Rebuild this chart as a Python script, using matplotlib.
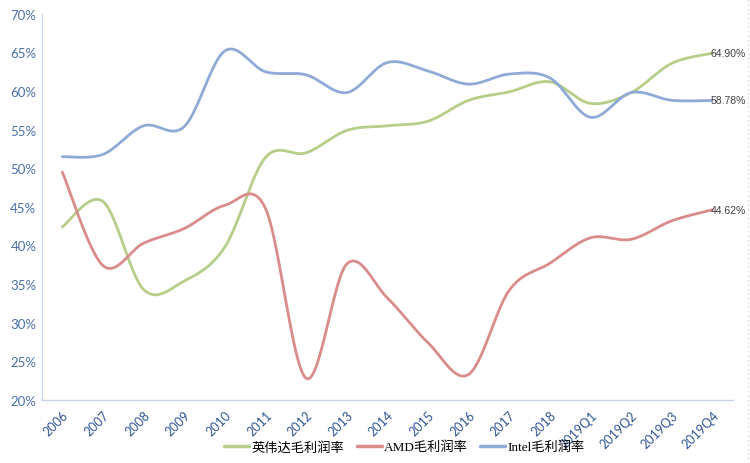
import numpy as np
import matplotlib
matplotlib.use("Agg")
from matplotlib import pyplot as plt
from matplotlib.lines import Line2D

# 数据
periods = ['2006', '2007', '2008', '2009', '2010', '2011', '2012', '2013', '2014',
           '2015', '2016', '2017', '2018', '2019Q1', '2019Q2', '2019Q3', '2019Q4']
nvidia = [42.4, 45.7, 34.3, 35.4, 39.8, 51.4, 52.0, 54.9, 55.5,
          56.1, 58.8, 59.9, 61.2, 58.4, 59.8, 63.6, 64.90]
amd = [49.5, 37.4, 40.3, 42.2, 45.2, 44.8, 22.8, 37.6, 33.2,
       27.4, 23.3, 34.2, 37.7, 41.0, 40.8, 43.2, 44.62]
intel = [51.5, 51.8, 55.5, 55.4, 65.2, 62.5, 62.1, 59.8, 63.7,
         62.6, 60.9, 62.2, 61.7, 56.6, 59.8, 58.8, 58.78]
names = ['英伟达毛利润率', 'AMD毛利润率', 'Intel毛利润率']
colors = ['#B5CE88', '#D98C8A', '#8EABD8']


def smooth(x, y, n=30):
    # 类似Excel平滑线：分段三次贝塞尔
    x = np.asarray(x, float)
    y = np.asarray(y, float)
    px = np.concatenate([[x[0]], x, [x[-1]]])
    py = np.concatenate([[y[0]], y, [y[-1]]])
    xs, ys = [], []
    t = np.linspace(0, 1, n)
    for i in range(len(x) - 1):
        p0 = np.array([px[i + 1], py[i + 1]])
        p3 = np.array([px[i + 2], py[i + 2]])
        c1 = p0 + (np.array([px[i + 2], py[i + 2]]) - np.array([px[i], py[i]])) / 6
        c2 = p3 - (np.array([px[i + 3], py[i + 3]]) - np.array([px[i + 1], py[i + 1]])) / 6
        b = ((1 - t) ** 3)[:, None] * p0 + (3 * (1 - t) ** 2 * t)[:, None] * c1 \
            + (3 * (1 - t) * t ** 2)[:, None] * c2 + (t ** 3)[:, None] * p3
        xs.append(b[:, 0])
        ys.append(b[:, 1])
    return np.concatenate(xs), np.concatenate(ys)


fig = plt.figure(figsize=(7.5, 4.64), dpi=100)
ax = fig.add_axes([0.056, 0.136, 0.921, 0.832])

x = np.arange(len(periods))
for data, name, c in zip([nvidia, amd, intel], names, colors):
    sx, sy = smooth(x, data)
    ax.plot(sx, sy, color=c, lw=2.0, label=name, solid_capstyle='round')
    ax.text(x[-1] - 0.05, data[-1], '%.2f%%' % data[-1], fontsize=7.5,
            color='#404040', va='center', ha='left', family='Liberation Sans')

ax.set_xlim(-0.5, 16.5)
ax.set_ylim(20, 70)
ax.set_yticks(range(20, 71, 5))
ax.set_yticklabels(['%d%%' % v for v in range(20, 71, 5)], family='Lato',
                   fontsize=9.5, color='#4A70A8')
ax.set_xticks(x)
ax.set_xticklabels(periods, rotation=45, ha='right', rotation_mode='anchor',
                   family='Lato', fontsize=9, color='#2F5597')
ax.tick_params(length=0, pad=4)
ax.tick_params(axis='x', pad=6)
for s in ['top', 'right']:
    ax.spines[s].set_visible(False)
ax.spines['left'].set_color('#C5D9EF')
ax.spines['bottom'].set_color('#C9D3E6')
ax.spines['left'].set_linewidth(1.0)
ax.spines['bottom'].set_linewidth(1.0)

leg = ax.legend(loc='upper center', bbox_to_anchor=(0.525, -0.075), ncol=3,
                frameon=False, handlelength=1.9, columnspacing=0.9,
                handletextpad=0.2,
                prop={'family': ['Liberation Serif', 'Noto Sans CJK SC'], 'size': 9.5})
for h in leg.get_lines():
    h.set_linewidth(2.5)

# 右侧虚线边框
fig.add_artist(Line2D([0.997, 0.997], [0.0, 1.0], transform=fig.transFigure,
                      color='#C8C8C8', lw=0.8, ls=(0, (1, 3))))

fig.savefig('out.png', dpi=100)
